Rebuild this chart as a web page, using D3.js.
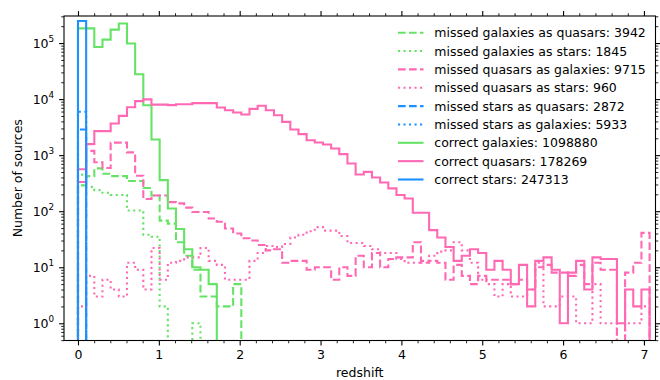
<!DOCTYPE html>
<html>
<head>
<meta charset="utf-8">
<script src="https://cdn.jsdelivr.net/npm/d3@7/dist/d3.min.js"></script>
<style>
  html, body { margin: 0; padding: 0; background: #fff; }
  svg { display: block; }
  text { font-family: "DejaVu Sans", sans-serif; fill: #000; }
</style>
</head>
<body>
<svg id="chart" width="660" height="380"></svg>
<script>
// Redshift histogram: 70 equal-width bins from z = 0 to z = 7.07
const binCount = 70;
const zUpper = 7.07;

// Source counts per redshift bin (trailing empty bins left out)
const missedGalaxiesAsQuasars = [289, 423, 581, 467, 423, 423, 345, 345, 259, 191, 68, 60, 28, 16, 9, 3, 3, 2, 2, 5];
const missedGalaxiesAsStars = [450, 272, 238, 213, 195, 195, 103, 103, 38, 35, 2, 0, 0, 0, 1];
const missedQuasarsAsGalaxies = [
  332, 1190, 745, 590, 1670, 1670, 1120, 430, 165, 190, 190, 145, 138, 116, 97, 97, 74, 65, 49, 40, 33,
  30, 25, 20, 21, 12, 13, 13, 9, 10, 10, 6, 10, 7, 16, 10, 18, 10, 14, 15, 15, 28, 12, 13, 12, 6, 11, 7,
  5, 7, 6, 6, 6, 5, 6, 4, 10, 11, 8, 8, 7, 11, 5, 12, 9, 9, 0, 8, 12, 41
];
const missedQuasarsAsStars = [
  2, 7, 3, 6, 4, 3, 12, 9, 4, 22, 6, 12, 13, 15, 15, 22, 13, 11, 6, 6, 6, 13,
  18, 24, 23, 26, 34, 38, 44, 52, 45, 45, 36, 27, 27, 24, 21, 18, 18, 14, 12, 12, 13, 16, 19, 20, 28, 20,
  12, 6, 5, 3, 5, 3, 3, 4, 12, 2, 2, 3, 3, 1, 1, 5, 1, 1, 0, 1, 1, 2
];
const missedStarsAsQuasars = [2872];
const missedStarsAsGalaxies = [5933];
const correctGalaxies = [182900, 182932, 85000, 115000, 174000, 223000, 98000, 27800, 7780, 1905, 358, 112, 48, 21, 10, 9, 5];
const correctQuasars = [
  560, 1570, 2680, 2680, 3670, 5020, 7170, 9200, 9900, 7980, 7980, 7800, 8100, 8100, 8480, 8480, 8480,
  7090, 6330, 5760, 5310, 6700, 7595, 6330, 5160, 3930, 2870, 2370, 1850, 1680, 1550, 1318, 1042, 709,
  453, 503, 400, 326, 255, 194, 169,
  94, 94, 46, 34, 23, 13, 16,
  21, 18, 9, 13, 9, 5, 11, 2, 13, 15, 9, 1, 8, 13, 4, 15, 14, 14, 1, 4, 2, 4
];
const correctStars = [247313];

// Axis ticks
const xMajorTicks = [0, 1, 2, 3, 4, 5, 6, 7];
const yMajorTicks = [1, 10, 100, 1000, 10000, 100000];

const GREEN = "#66e366", PINK = "#ff69b4", BLUE = "#1e90ff";
const DASH = { solid: null, dashed: "7.7,3.3", dotted: "2.1,3.4" };

const series = [
  { name: "missed galaxies as quasars", counts: missedGalaxiesAsQuasars, color: GREEN, style: "dashed" },
  { name: "missed galaxies as stars", counts: missedGalaxiesAsStars, color: GREEN, style: "dotted" },
  { name: "missed quasars as galaxies", counts: missedQuasarsAsGalaxies, color: PINK, style: "dashed" },
  { name: "missed quasars as stars", counts: missedQuasarsAsStars, color: PINK, style: "dotted" },
  { name: "missed stars as quasars", counts: missedStarsAsQuasars, color: BLUE, style: "dashed" },
  { name: "missed stars as galaxies", counts: missedStarsAsGalaxies, color: BLUE, style: "dotted" },
  { name: "correct galaxies", counts: correctGalaxies, color: GREEN, style: "solid" },
  { name: "correct quasars", counts: correctQuasars, color: PINK, style: "solid" },
  { name: "correct stars", counts: correctStars, color: BLUE, style: "solid" }
];

const edges = d3.range(binCount + 1).map(i => i * zUpper / binCount);

const plot = { left: 64, right: 655.5, top: 16, bottom: 340.5 };
const x = d3.scaleLinear().domain([-0.173, 7.143]).range([plot.left, plot.right]);
const y = d3.scaleLog().domain([0.493, 3.04e5]).range([plot.bottom, plot.top]);

const svg = d3.select("#chart");

svg.append("defs").append("clipPath").attr("id", "plot-clip")
  .append("rect")
  .attr("x", plot.left).attr("y", plot.top)
  .attr("width", plot.right - plot.left).attr("height", plot.bottom - plot.top);

// Step outline of a histogram; empty bins drop below the visible range
const belowAxis = plot.bottom + 40;
function stepPoints(counts) {
  const pts = [[edges[0], 0]];
  counts.forEach((c, i) => {
    pts.push([edges[i], c]);
    pts.push([edges[i + 1], c]);
  });
  pts.push([edges[counts.length], 0]);
  return pts;
}
const stepLine = d3.line()
  .x(d => x(d[0]))
  .y(d => d[1] > 0 ? y(d[1]) : belowAxis);

const marks = svg.append("g").attr("clip-path", "url(#plot-clip)");
series.forEach(s => {
  marks.append("path")
    .attr("d", stepLine(stepPoints(s.counts)))
    .attr("fill", "none")
    .attr("stroke", s.color)
    .attr("stroke-width", 2.1)
    .attr("stroke-linejoin", "miter")
    .attr("stroke-dasharray", DASH[s.style]);
});

// Axes: major and minor ticks on all four sides, pointing outward
const MAJOR = 4.9, MINOR = 2.8;
const xMinorTicks = d3.range(0, 7.01, 0.2).filter(v => Math.abs(v - Math.round(v)) > 1e-6);
const yMinorTicks = y.ticks().filter(v => !yMajorTicks.includes(v));

function tidy(sel, width) {
  sel.select(".domain").remove();
  sel.selectAll(".tick line").attr("stroke", "#000").attr("stroke-width", width);
  sel.attr("font-family", null).attr("font-size", null);
}

const axes = svg.append("g");
// bottom
axes.append("g").attr("transform", `translate(0,${plot.bottom})`)
  .call(d3.axisBottom(x).tickValues(xMajorTicks).tickSize(MAJOR).tickPadding(4.9).tickFormat(d3.format("d")))
  .call(sel => tidy(sel, 1.1))
  .call(sel => sel.selectAll("text").attr("font-size", 12.5).attr("fill", "#000"));
axes.append("g").attr("transform", `translate(0,${plot.bottom})`)
  .call(d3.axisBottom(x).tickValues(xMinorTicks).tickSize(MINOR).tickFormat(""))
  .call(sel => tidy(sel, 0.85));
// top
axes.append("g").attr("transform", `translate(0,${plot.top})`)
  .call(d3.axisTop(x).tickValues(xMajorTicks).tickSize(MAJOR).tickFormat(""))
  .call(sel => tidy(sel, 1.1));
axes.append("g").attr("transform", `translate(0,${plot.top})`)
  .call(d3.axisTop(x).tickValues(xMinorTicks).tickSize(MINOR).tickFormat(""))
  .call(sel => tidy(sel, 0.85));
// left
const leftAxis = axes.append("g").attr("transform", `translate(${plot.left},0)`)
  .call(d3.axisLeft(y).tickValues(yMajorTicks).tickSize(MAJOR).tickFormat(""))
  .call(sel => tidy(sel, 1.1));
axes.append("g").attr("transform", `translate(${plot.left},0)`)
  .call(d3.axisLeft(y).tickValues(yMinorTicks).tickSize(MINOR).tickFormat(""))
  .call(sel => tidy(sel, 0.85));
// right
axes.append("g").attr("transform", `translate(${plot.right},0)`)
  .call(d3.axisRight(y).tickValues(yMajorTicks).tickSize(MAJOR).tickFormat(""))
  .call(sel => tidy(sel, 1.1));
axes.append("g").attr("transform", `translate(${plot.right},0)`)
  .call(d3.axisRight(y).tickValues(yMinorTicks).tickSize(MINOR).tickFormat(""))
  .call(sel => tidy(sel, 0.85));

// power-of-ten labels on the count axis
const yLabels = axes.append("g");
yMajorTicks.forEach(v => {
  const t = yLabels.append("text")
    .attr("x", plot.left - MAJOR - 4.9)
    .attr("y", y(v) + 4.5)
    .attr("text-anchor", "end")
    .attr("font-size", 12.5);
  t.append("tspan").text("10");
  t.append("tspan").attr("font-size", 8.8).attr("dy", -5.6).text(String(Math.round(Math.log10(v))));
});

// frame
axes.append("rect")
  .attr("x", plot.left).attr("y", plot.top)
  .attr("width", plot.right - plot.left).attr("height", plot.bottom - plot.top)
  .attr("fill", "none").attr("stroke", "#000").attr("stroke-width", 1.1);

// axis titles
svg.append("text")
  .attr("x", (plot.left + plot.right) / 2).attr("y", 377)
  .attr("text-anchor", "middle").attr("font-size", 12.5)
  .text("redshift");
svg.append("text")
  .attr("transform", `translate(21.5,${(plot.top + plot.bottom) / 2}) rotate(-90)`)
  .attr("text-anchor", "middle").attr("font-size", 12.5)
  .text("Number of sources");

// legend
const legend = svg.append("g");
series.forEach((s, i) => {
  const ry = 32.7 + i * 18.35;
  legend.append("line")
    .attr("x1", 398).attr("x2", 423.5).attr("y1", ry).attr("y2", ry)
    .attr("stroke", s.color).attr("stroke-width", 2.1)
    .attr("stroke-dasharray", DASH[s.style]);
  legend.append("text")
    .attr("x", 434.3).attr("y", ry + 4.5)
    .attr("font-size", 12.5)
    .text(`${s.name}: ${d3.sum(s.counts)}`);
});
</script>
</body>
</html>
